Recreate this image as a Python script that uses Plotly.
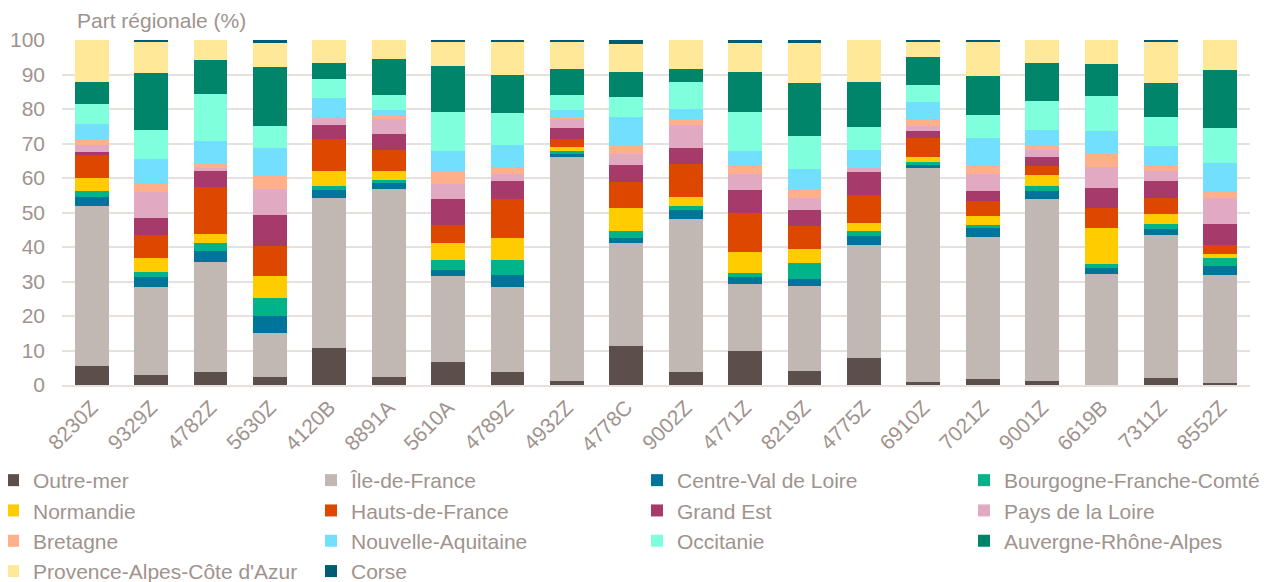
import plotly.graph_objects as go

categories = ["8230Z", "9329Z", "4782Z", "5630Z", "4120B", "8891A", "5610A", "4789Z", "4932Z", "4778C",
              "9002Z", "4771Z", "8219Z", "4775Z", "6910Z", "7021Z", "9001Z", "6619B", "7311Z", "8552Z"]

outre_mer = [5.6, 3.0, 3.7, 2.2, 10.8, 2.4, 6.6, 3.7, 1.3, 11.2, 3.7, 10.0, 4.2, 7.7, 0.8, 1.6, 1.1, 0.1, 2.1, 0.7]
ile_de_france = [46.3, 25.5, 32.0, 12.8, 43.4, 54.4, 24.9, 24.7, 64.8, 29.9, 44.3, 19.2, 24.5, 33.0, 62.1, 41.2, 52.7, 32.1, 41.3, 31.3]
centre_val_de_loire = [2.7, 2.7, 3.1, 5.0, 2.2, 1.8, 1.7, 3.6, 1.0, 1.6, 2.8, 2.1, 2.0, 2.5, 0.9, 2.7, 2.5, 1.7, 1.8, 2.4]
bourgogne_fc = [1.7, 1.5, 2.4, 5.2, 1.3, 0.8, 3.1, 4.1, 0.8, 1.9, 1.0, 1.1, 4.6, 1.3, 0.8, 0.9, 1.3, 1.1, 1.5, 2.3]
normandie = [3.8, 4.1, 2.5, 6.3, 4.4, 2.7, 4.9, 6.6, 1.1, 6.8, 2.8, 6.1, 4.1, 2.6, 1.5, 2.7, 3.3, 10.5, 2.8, 1.4]
hauts_de_france = [6.5, 6.6, 13.6, 8.8, 9.1, 6.1, 5.3, 11.2, 2.2, 7.3, 9.6, 11.4, 6.8, 8.1, 5.5, 4.2, 2.7, 5.9, 4.8, 2.6]
grand_est = [0.9, 5.1, 5.0, 8.9, 4.1, 4.5, 7.3, 5.2, 3.3, 5.1, 4.5, 6.5, 4.6, 6.6, 2.1, 3.0, 2.5, 5.7, 4.8, 5.9]
pays_de_la_loire = [2.0, 7.3, 0.5, 7.6, 2.3, 4.3, 4.6, 2.0, 2.5, 3.2, 6.6, 4.9, 3.5, 1.2, 1.4, 5.0, 2.0, 6.0, 2.8, 7.7]
bretagne = [1.6, 2.8, 1.3, 3.8, 0.2, 1.0, 3.7, 2.1, 0.7, 2.5, 1.9, 2.1, 2.6, 0.1, 2.1, 2.3, 1.3, 4.1, 1.6, 1.7]
nouvelle_aquitaine = [4.6, 6.8, 6.7, 8.1, 5.5, 1.7, 5.8, 6.4, 2.0, 8.2, 2.9, 4.5, 5.7, 5.1, 4.9, 8.0, 4.6, 6.3, 5.7, 8.3]
occitanie = [5.7, 8.5, 13.6, 6.4, 5.4, 4.4, 11.2, 9.3, 4.5, 5.7, 7.6, 11.3, 9.7, 6.6, 5.0, 6.7, 8.4, 10.2, 8.5, 10.3]
auvergne_ra = [6.5, 16.6, 9.9, 17.2, 4.5, 10.4, 13.4, 11.1, 7.3, 7.2, 3.8, 11.5, 15.3, 13.1, 8.0, 11.4, 11.0, 9.2, 9.7, 16.6]
paca = [12.1, 8.8, 5.7, 6.9, 6.8, 5.5, 7.0, 9.5, 8.2, 8.3, 8.5, 8.5, 11.4, 12.1, 4.3, 9.9, 6.6, 7.1, 12.0, 8.8]
corse = [0.0, 0.7, 0.0, 0.8, 0.0, 0.0, 0.5, 0.5, 0.3, 1.1, 0.0, 0.8, 1.0, 0.0, 0.6, 0.4, 0.0, 0.0, 0.6, 0.0]

region_names = ["Outre-mer", "Île-de-France", "Centre-Val de Loire", "Bourgogne-Franche-Comté",
                "Normandie", "Hauts-de-France", "Grand Est", "Pays de la Loire",
                "Bretagne", "Nouvelle-Aquitaine", "Occitanie", "Auvergne-Rhône-Alpes",
                "Provence-Alpes-Côte d'Azur", "Corse"]
region_values = [outre_mer, ile_de_france, centre_val_de_loire, bourgogne_fc, normandie, hauts_de_france,
                 grand_est, pays_de_la_loire, bretagne, nouvelle_aquitaine, occitanie, auvergne_ra, paca, corse]
region_colors = ["#5c4f4b", "#c2b8b3", "#00759a", "#00b388", "#ffcc00", "#dd4700", "#a63a6a",
                 "#e1aac2", "#ffaf8a", "#73dfff", "#7fffdb", "#00856a", "#ffe999", "#005b74"]

y_ticks = [0, 10, 20, 30, 40, 50, 60, 70, 80, 90, 100]

text_color = "#a0938e"
grid_color = "#e6e1df"
FS = 21

# figure is offset by the page's 8px body margin
W, H = 1260, 574
ML, MR, MT, MB = 54, 18, 32, 197
plot_w = W - ML - MR

legend_ids = ["legend", "legend2", "legend3", "legend4"]

fig = go.Figure()
for i, (name, vals, col) in enumerate(zip(region_names, region_values, region_colors)):
    fig.add_trace(go.Bar(name=name, x=categories, y=vals, marker_color=col, marker_line_width=0,
                         legend=legend_ids[i % 4]))

col_px = [-15, 303, 629, 956]
legend_top = 1 - 452 / H

legend_common = dict(orientation="v", yref="container", y=legend_top, yanchor="top",
                     xref="paper", xanchor="left", traceorder="normal", itemwidth=30,
                     font=dict(size=FS, color=text_color, family="Liberation Sans, Arial, sans-serif"),
                     bgcolor="rgba(0,0,0,0)", borderwidth=0)

layout_legends = {}
for lid, px in zip(legend_ids, col_px):
    layout_legends[lid] = dict(legend_common, x=(px - ML) / plot_w)

fig.update_layout(
    barmode="stack",
    bargap=0.43,
    width=W, height=H,
    margin=dict(l=ML, r=MR, t=MT, b=MB, autoexpand=False),
    paper_bgcolor="white", plot_bgcolor="white",
    font=dict(family="Liberation Sans, Arial, sans-serif", size=FS, color=text_color),
    showlegend=True,
    annotations=[dict(text="Part régionale (%)", xref="paper", yref="paper", x=0.011, y=1,
                      xanchor="left", yanchor="middle", yshift=20, showarrow=False,
                      font=dict(size=FS, color=text_color))],
    **layout_legends,
)
fig.update_yaxes(range=[0, 100], tickvals=y_ticks, showgrid=True, gridcolor=grid_color, gridwidth=1.5,
                 zeroline=False, ticks="", automargin=False, ticklabelstandoff=16,
                 tickfont=dict(size=FS, color=text_color))
fig.update_xaxes(tickangle=-45, showline=True, linecolor=grid_color, linewidth=2, ticks="",
                 automargin=False, tickfont=dict(size=FS, color=text_color))

fig.write_html("out.html")
